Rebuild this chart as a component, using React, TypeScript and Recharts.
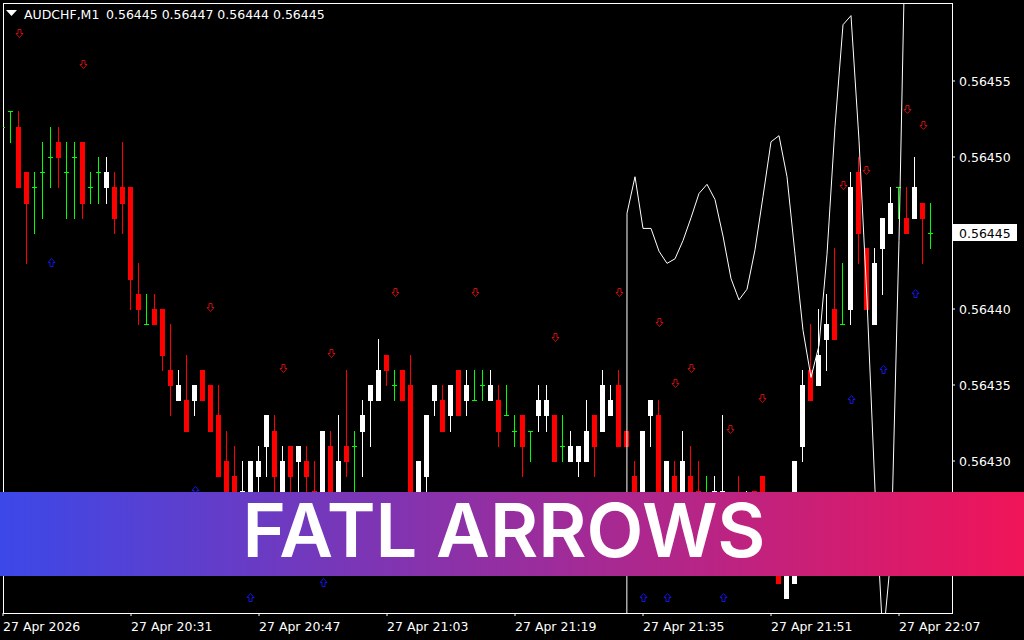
import {
  Bar,
  ComposedChart,
  Line,
  ReferenceArea,
  ReferenceLine,
  Scatter,
  XAxis,
  YAxis,
} from "recharts"

// AUDCHF M1 candles, one per minute (20:15 .. 22:11)
const OPEN = [
  0.56452, 0.56453, 0.56452, 0.56449, 0.56448, 0.56449, 0.5645, 0.56451, 0.56449, 0.5645,
  0.56451, 0.56448, 0.56449, 0.56448, 0.56448, 0.56448, 0.56448, 0.56441, 0.56439, 0.5644,
  0.5644, 0.56436, 0.56434, 0.56434, 0.56434, 0.56436, 0.56435, 0.56433, 0.5643, 0.56429,
  0.56426, 0.56427, 0.56429, 0.56431, 0.56432, 0.56428, 0.56431, 0.5643, 0.5643, 0.56428,
  0.56428, 0.56431, 0.56427, 0.56431, 0.56431, 0.56432, 0.56434, 0.56434, 0.56437, 0.56435,
  0.56436, 0.56435, 0.56428, 0.56429, 0.56434, 0.56434, 0.56433, 0.56436, 0.56434, 0.56434,
  0.56435, 0.56434, 0.56434, 0.56433, 0.56432, 0.56433, 0.56432, 0.56433, 0.56433, 0.56433,
  0.56431, 0.5643, 0.5643, 0.5643, 0.56433, 0.56432, 0.56433, 0.56435, 0.56432, 0.56429,
  0.56426, 0.56433, 0.56433, 0.56427, 0.56429, 0.56428, 0.56429, 0.56428, 0.56427, 0.56426,
  0.56426, 0.56427, 0.56427, 0.56425, 0.56428, 0.56429, 0.56425, 0.56426, 0.56421, 0.56422,
  0.56431, 0.56436, 0.56435, 0.56438, 0.5644, 0.56439, 0.5644, 0.56449, 0.56444, 0.56439,
  0.56444, 0.56445, 0.56448, 0.56446, 0.56446, 0.56447, 0.56445,
]
const HIGH = [
  0.56453, 0.56453, 0.56453, 0.56449, 0.56449, 0.56451, 0.56452, 0.56452, 0.56451, 0.56451,
  0.56451, 0.56449, 0.5645, 0.5645, 0.56449, 0.56451, 0.56448, 0.56443, 0.56441, 0.56441,
  0.5644, 0.56439, 0.56436, 0.56437, 0.56435, 0.56436, 0.56435, 0.56435, 0.56432, 0.56431,
  0.5643, 0.5643, 0.56431, 0.56433, 0.56433, 0.56431, 0.56431, 0.56431, 0.56431, 0.5643,
  0.56432, 0.56432, 0.56433, 0.56436, 0.56432, 0.56434, 0.56435, 0.56438, 0.56437, 0.56436,
  0.56436, 0.56437, 0.5643, 0.56433, 0.56435, 0.56435, 0.56435, 0.56436, 0.56436, 0.56436,
  0.56436, 0.56436, 0.56435, 0.56435, 0.56433, 0.56433, 0.56432, 0.56435, 0.56435, 0.56433,
  0.56433, 0.56432, 0.56431, 0.56434, 0.56433, 0.56436, 0.56435, 0.56436, 0.56432, 0.5643,
  0.56432, 0.56434, 0.56434, 0.5643, 0.5643, 0.56432, 0.56431, 0.5643, 0.56429, 0.56429,
  0.56433, 0.56427, 0.56429, 0.56428, 0.56428, 0.56429, 0.56426, 0.56427, 0.56427, 0.5643,
  0.56436, 0.56439, 0.5644, 0.56441, 0.56444, 0.56443, 0.56449, 0.5645, 0.56444, 0.56444,
  0.56446, 0.56448, 0.56448, 0.56448, 0.5645, 0.56447, 0.56447,
]
const LOW = [
  0.56451, 0.56451, 0.56448, 0.56443, 0.56445, 0.56446, 0.56448, 0.56448, 0.56446, 0.56446,
  0.56446, 0.56447, 0.56447, 0.56447, 0.56445, 0.56445, 0.5644, 0.56439, 0.56439, 0.56439,
  0.56436, 0.56433, 0.56434, 0.56432, 0.56433, 0.56434, 0.56432, 0.56429, 0.56428, 0.56426,
  0.56425, 0.56426, 0.56427, 0.56429, 0.56428, 0.56427, 0.56428, 0.56428, 0.56427, 0.56426,
  0.56427, 0.56426, 0.56427, 0.56429, 0.56427, 0.56429, 0.56431, 0.56434, 0.56435, 0.56434,
  0.56434, 0.56425, 0.56427, 0.56428, 0.56433, 0.56432, 0.56432, 0.56433, 0.56433, 0.56434,
  0.56434, 0.56434, 0.56431, 0.56433, 0.56431, 0.56429, 0.5643, 0.56432, 0.56432, 0.5643,
  0.5643, 0.5643, 0.56429, 0.5643, 0.56429, 0.56432, 0.56433, 0.56431, 0.56431, 0.56426,
  0.56426, 0.56431, 0.56426, 0.56426, 0.56426, 0.56427, 0.56426, 0.56426, 0.56426, 0.56425,
  0.56426, 0.56424, 0.56424, 0.56424, 0.56424, 0.56423, 0.56423, 0.56422, 0.56421, 0.56422,
  0.5643, 0.56434, 0.56435, 0.56436, 0.56438, 0.56439, 0.56439, 0.56443, 0.5644, 0.56439,
  0.56441, 0.56445, 0.56446, 0.56445, 0.56446, 0.56443, 0.56444,
]
const CLOSE = [
  0.56452, 0.56453, 0.56448, 0.56447, 0.56448, 0.56449, 0.5645, 0.5645, 0.56449, 0.5645,
  0.56447, 0.56448, 0.56449, 0.56449, 0.56446, 0.56447, 0.56442, 0.5644, 0.56439, 0.56439,
  0.56437, 0.56435, 0.56435, 0.56432, 0.56435, 0.56434, 0.56432, 0.56429, 0.56428, 0.56427,
  0.56428, 0.5643, 0.5643, 0.56433, 0.56429, 0.5643, 0.56429, 0.56431, 0.56429, 0.56427,
  0.56432, 0.56427, 0.5643, 0.5643, 0.56431, 0.56433, 0.56435, 0.56436, 0.56436, 0.56435,
  0.56434, 0.56426, 0.5643, 0.56433, 0.56435, 0.56432, 0.56435, 0.56433, 0.56435, 0.56434,
  0.56435, 0.56435, 0.56432, 0.56433, 0.56432, 0.56431, 0.56432, 0.56434, 0.56434, 0.5643,
  0.56431, 0.56431, 0.56431, 0.56432, 0.56431, 0.56435, 0.56434, 0.56431, 0.56431, 0.56427,
  0.56432, 0.56434, 0.56427, 0.5643, 0.56427, 0.5643, 0.56427, 0.56427, 0.56427, 0.56428,
  0.56428, 0.56425, 0.56425, 0.56427, 0.56425, 0.56424, 0.56423, 0.56422, 0.56426, 0.5643,
  0.56435, 0.56434, 0.56437, 0.56439, 0.56438, 0.56439, 0.56448, 0.56445, 0.5644, 0.56443,
  0.56446, 0.56447, 0.56448, 0.56445, 0.56448, 0.56446, 0.56445,
]

// FATL line, starts at bar 77 (first value is the indicator's bogus 0-ish value)
const FATL_START = 77
const FATL = [
  0.55, 0.564463, 0.564487, 0.564453, 0.564453, 0.564438, 0.56443, 0.564433, 0.564445,
  0.56446, 0.564476, 0.564482, 0.564472, 0.564448, 0.56442, 0.564406, 0.564413, 0.564439,
  0.564474, 0.56451, 0.564514, 0.564487, 0.564436, 0.564386, 0.564355, 0.564376, 0.564436,
  0.56452, 0.564587, 0.564593, 0.564511, 0.564406, 0.564281, 0.564182, 0.564238, 0.564445,
  0.564702,
]

// signal arrows: bar index + price where the glyph sits
const SELL_BARS = [2, 10, 26, 35, 41, 49, 59, 69, 77, 82, 84, 86, 91, 95, 105, 108, 113, 115]
const SELL_PRICES = [
  0.56458, 0.56456, 0.5644, 0.56436, 0.56437, 0.56441, 0.56441, 0.56438, 0.56441, 0.56439,
  0.56435, 0.56436, 0.56432, 0.56434, 0.56448, 0.56449, 0.56453, 0.56452,
]
const BUY_BARS = [6, 24, 31, 40, 80, 83, 90, 106, 110, 114]
const BUY_PRICES = [
  0.56443, 0.56428, 0.56421, 0.56422, 0.56421, 0.56421, 0.56421, 0.56434, 0.56436, 0.56441,
]

const TIME_TICKS = [0, 16, 32, 48, 64, 80, 96, 112]
const TIME_LABELS = [
  "27 Apr 2026",
  "27 Apr 20:31",
  "27 Apr 20:47",
  "27 Apr 21:03",
  "27 Apr 21:19",
  "27 Apr 21:35",
  "27 Apr 21:51",
  "27 Apr 22:07",
]
const PRICE_TICKS = [0.56425, 0.5643, 0.56435, 0.5644, 0.56445, 0.5645, 0.56455]
const Y_DOMAIN = [0.5642, 0.5646013]
const X_DOMAIN = [0, 118.625]

const BULL = "#ffffff"
const BEAR = "#ff0000"
const DOJI = "#00ff00"
const SELL_COLOR = "#c80e0e"
const BUY_COLOR = "#1414e6"
const FONT = "DejaVu Sans"

const DATA = OPEN.map((open, i) => {
  const j = i - FATL_START
  return {
    x: i,
    open,
    high: HIGH[i],
    low: LOW[i],
    close: CLOSE[i],
    range: [LOW[i], HIGH[i]],
    fatl: j >= 0 && j < FATL.length ? FATL[j] : null,
  }
})
const SELLS = SELL_BARS.map((x, i) => ({ x, y: SELL_PRICES[i] }))
const BUYS = BUY_BARS.map((x, i) => ({ x, y: BUY_PRICES[i] }))

const LAST = OPEN.length - 1

function Candle(props: any) {
  const { x, y, width, height, payload } = props
  if (!payload) return null
  const { open, close, high, low } = payload
  const top = Math.min(y, y + height)
  const h = Math.abs(height)
  const unit = high === low ? 0 : h / (high - low)
  const yOf = (v: number) => Math.round(top + (high - v) * unit)
  const cx = Math.floor(x + width / 2)
  const color = open === close ? DOJI : close > open ? BULL : BEAR
  const bTop = yOf(Math.max(open, close))
  const bBot = yOf(Math.min(open, close))
  return (
    <g shapeRendering="crispEdges">
      <rect x={cx} y={yOf(high)} width={1} height={yOf(low) - yOf(high) + 1} fill={color} />
      <rect
        x={cx - 2}
        y={bTop}
        width={5}
        height={open === close ? 1 : bBot - bTop + 1}
        fill={color}
      />
    </g>
  )
}

function SellArrow({ cx, cy }: any) {
  const x = Math.floor(cx) + 0.5
  const y = Math.round(cy) - 1.5
  const d = `M${x - 1.5},${y - 4} H${x + 1.5} V${y} H${x + 3.5} L${x},${y + 4} L${x - 3.5},${y} H${x - 1.5} Z`
  return <path d={d} fill="none" stroke={SELL_COLOR} strokeWidth={1} />
}

function BuyArrow({ cx, cy }: any) {
  const x = Math.floor(cx) + 0.5
  const y = Math.round(cy) - 0.5
  const d = `M${x - 1.5},${y + 4} H${x + 1.5} V${y} H${x + 3.5} L${x},${y - 4} L${x - 3.5},${y} H${x - 1.5} Z`
  return <path d={d} fill="none" stroke={BUY_COLOR} strokeWidth={1} />
}

function TimeTick({ x, y, payload }: any) {
  const i = TIME_TICKS.indexOf(payload.value)
  return (
    <text x={x} y={y} dy={13} fill="#fff" fontSize={12.5} fontFamily={FONT} textAnchor="start">
      {TIME_LABELS[i]}
    </text>
  )
}

function PriceTick({ x, y, payload }: any) {
  // the bid tag covers the label at the last close
  if (payload.value === CLOSE[LAST]) return <g />
  return (
    <text x={x + 2} y={y} dy={5} fill="#fff" fontSize={12.5} fontFamily={FONT} textAnchor="start">
      {payload.value.toFixed(5)}
    </text>
  )
}

function PriceTag(props: any) {
  const vb = props.viewBox
  if (!vb) return null
  const x = vb.x + vb.width + 1
  const y = vb.y
  return (
    <g>
      <rect x={x} y={y - 9} width={64} height={17} fill="#fff" shapeRendering="crispEdges" />
      <text x={x + 6} y={y + 5} fill="#000" fontSize={12.5} fontFamily={FONT}>
        {CLOSE[LAST].toFixed(5)}
      </text>
    </g>
  )
}

export default function App() {
  return (
    <div
      style={{
        position: "fixed",
        left: 0,
        top: 0,
        width: 1024,
        height: 640,
        background: "#000",
        overflow: "hidden",
      }}
    >
      <ComposedChart
        width={1024}
        height={640}
        data={DATA}
        margin={{ top: 3, right: 0, bottom: 0, left: 3 }}
      >
        <XAxis
          dataKey="x"
          type="number"
          domain={X_DOMAIN}
          allowDataOverflow
          ticks={TIME_TICKS}
          interval={0}
          height={27}
          axisLine={false}
          tickLine={{ stroke: "#fff" }}
          tickSize={3}
          tick={<TimeTick />}
        />
        <YAxis
          orientation="right"
          type="number"
          domain={Y_DOMAIN}
          allowDataOverflow
          ticks={PRICE_TICKS}
          interval={0}
          width={72}
          axisLine={false}
          tickLine={{ stroke: "#fff" }}
          tickSize={3}
          tick={<PriceTick />}
        />
        <ReferenceArea
          x1={X_DOMAIN[0]}
          x2={X_DOMAIN[1]}
          y1={Y_DOMAIN[0]}
          y2={Y_DOMAIN[1]}
          fill="none"
          stroke="#fff"
          strokeWidth={1}
          ifOverflow="visible"
          shapeRendering="crispEdges"
        />
        <Bar dataKey="range" barSize={5} shape={<Candle />} isAnimationActive={false} />
        <Line
          dataKey="fatl"
          type="linear"
          stroke="#fff"
          strokeWidth={1}
          dot={false}
          activeDot={false}
          connectNulls={false}
          isAnimationActive={false}
        />
        <Scatter data={SELLS} dataKey="y" shape={<SellArrow />} isAnimationActive={false} />
        <Scatter data={BUYS} dataKey="y" shape={<BuyArrow />} isAnimationActive={false} />
        <ReferenceLine y={CLOSE[LAST]} stroke="#000" strokeOpacity={0} label={<PriceTag />} />
      </ComposedChart>

      <svg
        width={1024}
        height={640}
        style={{ position: "absolute", left: 0, top: 0, pointerEvents: "none" }}
      >
        <defs>
          <linearGradient id="banner" x1="0" y1="0" x2="1" y2="0">
            <stop offset="0%" stopColor="#3c48e8" />
            <stop offset="100%" stopColor="#f01458" />
          </linearGradient>
        </defs>
        <polygon points="6,10 17,10 11.5,16" fill="#fff" />
        <text x={24} y={19} fill="#fff" fontSize={12.5} fontFamily={FONT}>
          AUDCHF,M1
        </text>
        <text x={106} y={19} fill="#fff" fontSize={12.5} fontFamily={FONT}>
          {[OPEN[LAST], HIGH[LAST], LOW[LAST], CLOSE[LAST]].map((v) => v.toFixed(5)).join(" ")}
        </text>
        <rect x={0} y={492} width={1024} height={84} fill="url(#banner)" />
        <text
          x={504}
          y={557}
          fill="#fff"
          fontSize={74}
          fontWeight={600}
          fontFamily="Inter"
          textAnchor="middle"
        >
          FATL ARROWS
        </text>
      </svg>
    </div>
  )
}
